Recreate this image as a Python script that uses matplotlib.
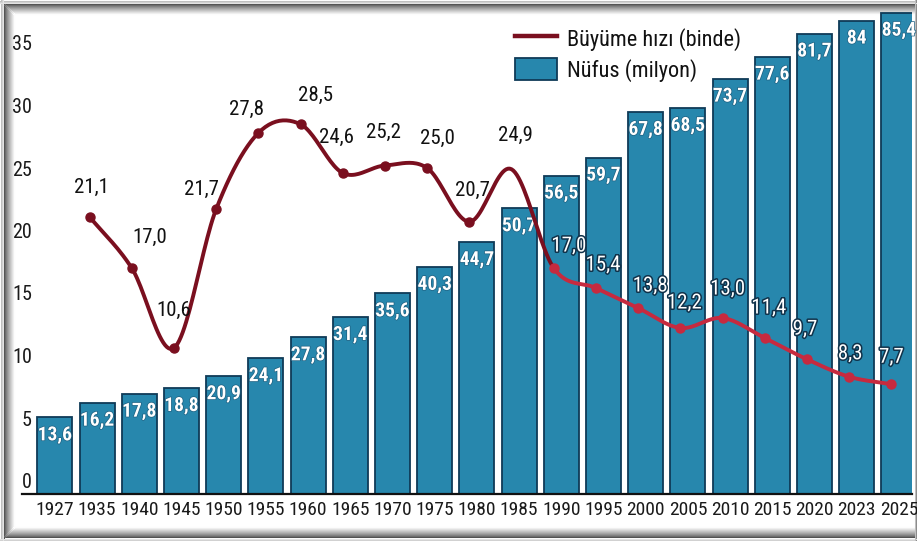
import numpy as np
import matplotlib
matplotlib.use('Agg')
import matplotlib.pyplot as plt
from matplotlib import font_manager as fm
import matplotlib.patheffects as pe
from matplotlib.lines import Line2D
from matplotlib.patches import Patch

# ---------------- data ----------------
years = ['1927', '1935', '1940', '1945', '1950', '1955', '1960', '1965', '1970',
         '1975', '1980', '1985', '1990', '1995', '2000', '2005', '2010', '2015',
         '2020', '2023', '2025']
population = [13.6, 16.2, 17.8, 18.8, 20.9, 24.1, 27.8, 31.4, 35.6, 40.3, 44.7,
              50.7, 56.5, 59.7, 67.8, 68.5, 73.7, 77.6, 81.7, 84, 85.4]
growth = [np.nan, 21.1, 17.0, 10.6, 21.7, 27.8, 28.5, 24.6, 25.2, 25.0, 20.7,
          24.9, 17.0, 15.4, 13.8, 12.2, 13.0, 11.4, 9.7, 8.3, 7.7]
yticks = [0, 5, 10, 15, 20, 25, 30, 35]
legend_labels = ['Büyüme hızı (binde)', 'Nüfus (milyon)']

# ---------------- fonts ----------------
names = {f.name for f in fm.fontManager.ttflist}
COND = None
for cand in ['Liberation Sans Narrow', 'Roboto Condensed', 'Open Sans Condensed',
             'Noto Sans Condensed']:
    if cand in names:
        COND = dict(family=cand)
        break
if COND is None:
    for f in fm.fontManager.ttflist:
        if str(f.stretch) in ('condensed', 'semi-condensed', 'extra-condensed') and \
                f.name in ('DejaVu Sans', 'Noto Sans', 'Open Sans', 'Roboto'):
            COND = dict(family=f.name, stretch=f.stretch)
            break
if COND is None:
    COND = dict(family='DejaVu Sans')

# ---------------- style ----------------
BAR = '#2787ad'
BAR_EDGE = '#0f3a57'
DARK = '#7a0f1f'
RED = '#c62a3f'
W, H = 917, 541

fig = plt.figure(figsize=(W / 100, H / 100), dpi=100)
fig.patch.set_facecolor('white')
ax = fig.add_axes([22 / W, 47 / H, 890 / W, 484 / H])
ax2 = ax.twinx()
ax2.patch.set_visible(False)

x = np.arange(len(years))
ax2.bar(x, population, width=0.83, color=BAR, edgecolor=BAR_EDGE, linewidth=1.3, zorder=2)
ax2.set_ylim(0, 484 / 5.636)
ax.set_ylim(-1.08, 37.64)
ax.set_xlim(-0.78, 20.31)
ax.set_zorder(ax2.get_zorder() + 1)
ax.patch.set_visible(False)

for a in (ax, ax2):
    for s in a.spines.values():
        s.set_visible(False)
ax.spines['bottom'].set_visible(True)
ax.spines['bottom'].set_linewidth(1.6)
ax.spines['bottom'].set_color('#111111')
ax2.set_yticks([])

ax.set_yticks(yticks)
ax.set_yticklabels([str(v) for v in yticks], fontsize=14.5, color='#1a1a1a', **COND)
ax.tick_params(axis='y', length=0, pad=-7.2)
ax.set_xticks(x)
ax.set_xticklabels(years, fontsize=14, color='#1a1a1a', **COND)
ax.tick_params(axis='x', length=0, pad=5)

# population labels inside bars
for xi, v in zip(x, population):
    ax2.annotate(str(v).replace('.', ','), (xi, v), xytext=(0, -9),
                 textcoords='offset pixels', ha='center', va='top',
                 color='white', fontsize=14, fontweight='bold', zorder=3,
                 path_effects=[pe.withStroke(linewidth=1.0, foreground='#1d5f80')],
                 **COND)


# ---------------- growth line (smooth) ----------------
def catmull_rom(px, py, n=24):
    pts = np.column_stack([px, py])
    P = np.vstack([2 * pts[0] - pts[1], pts, 2 * pts[-1] - pts[-2]])
    out = []
    idx = []
    for i in range(1, len(P) - 2):
        p0, p1, p2, p3 = P[i - 1], P[i], P[i + 1], P[i + 2]
        t = np.linspace(0, 1, n, endpoint=False)[:, None]
        seg = 0.5 * ((2 * p1) + (-p0 + p2) * t + (2 * p0 - 5 * p1 + 4 * p2 - p3) * t ** 2
                     + (-p0 + 3 * p1 - 3 * p2 + p3) * t ** 3)
        out.append(seg)
        idx.append(np.full(n, i - 1))
    out.append(pts[-1][None])
    idx.append(np.array([len(pts) - 1]))
    return np.vstack(out), np.concatenate(idx)


g = np.array(growth, dtype=float)
valid = ~np.isnan(g)
gx = x[valid] - 0.18
gy = g[valid]
curve, seg_idx = catmull_rom(gx, gy)
yrs_valid = list(np.array(years)[valid])
split = yrs_valid.index('1990')
first = curve[seg_idx < split]
first = np.vstack([first, [[gx[split], gy[split]]]])
second = curve[seg_idx >= split]
ax.plot(first[:, 0], first[:, 1], color=DARK, lw=2.8, solid_capstyle='round', zorder=5)
ax.plot(second[:, 0], second[:, 1], color=RED, lw=2.8, solid_capstyle='round', zorder=5)

for k, (xx, yy) in enumerate(zip(gx, gy)):
    if yrs_valid[k] == '1985':
        continue
    c = DARK if k < split else RED
    ax.plot([xx], [yy], 'o', color=c, ms=6.5, zorder=6)

# label offsets in pixels (label centre relative to point)
lab_off = {'1935': (2, 29), '1940': (18, 31), '1945': (0, 38), '1950': (-15, 20),
           '1955': (-12, 24), '1960': (15, 29), '1965': (-6, 36), '1970': (-1, 33),
           '1975': (10, 30), '1980': (3, 31), '1985': (4, 34), '1990': (15, 22),
           '1995': (7, 23), '2000': (12, 22), '2005': (4, 25), '2010': (5, 29),
           '2015': (4, 30), '2020': (-2, 30), '2023': (1, 23), '2025': (0, 27)}
for k, (xx, yy) in enumerate(zip(gx, gy)):
    yr = yrs_valid[k]
    txt = f'{yy:.1f}'.replace('.', ',')
    white = k >= split
    kw = dict(color='white',
              path_effects=[pe.withStroke(linewidth=2.2, foreground='#10324a')]) if white \
        else dict(color='#111111')
    ax.annotate(txt, (xx, yy), xytext=lab_off.get(yr, (0, 28)), textcoords='offset pixels',
                ha='center', va='center', fontsize=15, zorder=7, **kw, **COND)

# ---------------- legend ----------------
handles = [Line2D([0], [0], color=DARK, lw=3.2),
           Patch(facecolor=BAR, edgecolor=BAR_EDGE, linewidth=1.3)]
leg = ax.legend(handles, legend_labels, loc='upper left',
                bbox_to_anchor=(515 / W, 1 - 27 / H), bbox_transform=fig.transFigure,
                frameon=False, borderpad=0, borderaxespad=0, handlelength=1.9,
                handleheight=1.2, handletextpad=0.45, labelspacing=0.3,
                prop=fm.FontProperties(size=16, **COND))
for t in leg.get_texts():
    t.set_color('#111111')

# ---------------- frame with shadow (behind the axes content) ----------------
def hline(ypx, x0, x1, g):
    fig.add_artist(Line2D([x0 / W, x1 / W], [1 - ypx / H, 1 - ypx / H], lw=0.75,
                          color=(g, g, g), transform=fig.transFigure, zorder=-5))


def vline(xpx, y0, y1, g):
    fig.add_artist(Line2D([xpx / W, xpx / W], [1 - y0 / H, 1 - y1 / H], lw=0.75,
                          color=(g, g, g), transform=fig.transFigure, zorder=-5))


for k in range(11):
    gval = 0.32 + 0.67 * (k / 10) ** 0.8
    hline(3.5 + k, 3 + k, W - 3, gval)              # top
    vline(3.5 + k, 3 + k, H - 3 - k, gval)          # left
    hline(H - 4.5 - k, 3 + k, W - 3, gval)          # bottom
for k in range(3):
    g0 = 0.75 + 0.07 * k
    hline(0.5 + k, 0, W, g0)
    vline(0.5 + k, 0, H, g0)
    hline(H - 0.5 - k, 0, W, g0)
    vline(W - 0.5 - k, 0, H, 0.35 + 0.2 * k)

fig.savefig('out.png', dpi=100, facecolor='white')
